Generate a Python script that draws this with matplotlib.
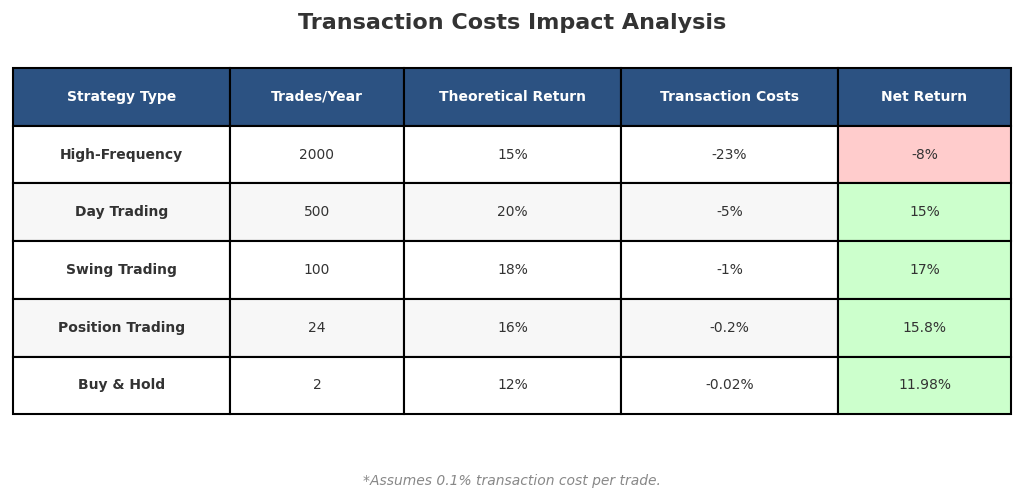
import matplotlib
matplotlib.use("Agg")
import matplotlib.pyplot as plt
from matplotlib.patches import Rectangle

columns = ["Strategy Type", "Trades/Year", "Theoretical Return", "Transaction Costs", "Net Return"]
strategies = ["High-Frequency", "Day Trading", "Swing Trading", "Position Trading", "Buy & Hold"]
trades = ["2000", "500", "100", "24", "2"]
theoretical = ["15%", "20%", "18%", "16%", "12%"]
costs = ["-23%", "-5%", "-1%", "-0.2%", "-0.02%"]
net = ["-8%", "15%", "17%", "15.8%", "11.98%"]
net_values = [-8, 15, 17, 15.8, 11.98]

col_edges = [13, 230, 404, 621, 838, 1011]
top, row_h = 68, 57.7

fig = plt.figure(figsize=(10.24, 5.03), dpi=100)
ax = fig.add_axes([0, 0, 1, 1])
ax.set_xlim(0, 1024); ax.set_ylim(503, 0); ax.axis("off")

fig.text(0.5, 1 - 23/503, "Transaction Costs Impact Analysis", ha="center", va="center",
         fontsize=16, fontweight="bold", color="#333333")

rows = [columns] + [list(r) for r in zip(strategies, trades, theoretical, costs, net)]
for i, row in enumerate(rows):
    y0 = top + i * row_h
    for j, txt in enumerate(row):
        x0, x1 = col_edges[j], col_edges[j + 1]
        if i == 0:
            fc, color, weight = "#2c5282", "white", "bold"
        else:
            fc = "#f7f7f7" if i % 2 == 0 else "white"
            color, weight = "#333333", ("bold" if j == 0 else "normal")
            if j == 4:
                fc = "#ffcccc" if net_values[i - 1] < 0 else "#ccffcc"
        ax.add_patch(Rectangle((x0, y0), x1 - x0, row_h, facecolor=fc, edgecolor="black", lw=1.5))
        ax.text((x0 + x1) / 2, y0 + row_h / 2, txt, ha="center", va="center",
                fontsize=10, fontweight=weight, color=color)

fig.text(0.5, 1 - 481/503, "*Assumes 0.1% transaction cost per trade.", ha="center", va="center",
         fontsize=10, style="italic", color="#888888")
fig.savefig("out.png", dpi=100)
